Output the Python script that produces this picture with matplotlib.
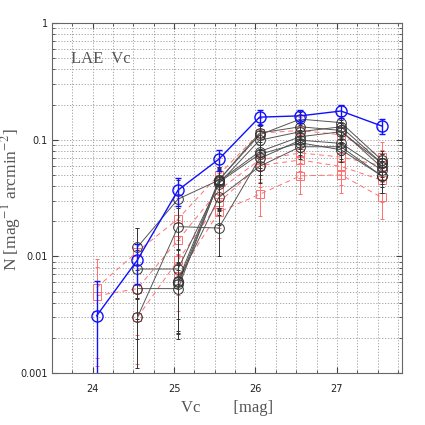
import matplotlib.pyplot as plt
import numpy as np
from matplotlib.ticker import FixedLocator, LogLocator, NullFormatter

plt.rcParams['mathtext.fontset'] = 'stix'

nan = np.nan

# magnitude bins
mag = [24.05, 24.55, 25.05, 25.55, 26.05, 26.55, 27.05, 27.55]

# blue (total) counts
blue_n = [0.0031, 0.0093, 0.037, 0.068, 0.156, 0.160, 0.176, 0.131]
blue_err = [0.0030, 0.0035, 0.010, 0.014, 0.022, 0.020, 0.024, 0.020]

# black (individual fields)
black_n = [
    [nan, 0.0120, 0.031, 0.045, 0.110, 0.150, 0.140, 0.067],
    [nan, 0.0078, 0.0078, 0.042, 0.099, 0.117, 0.129, 0.063],
    [nan, 0.0053, 0.0053, 0.044, 0.079, 0.106, 0.117, 0.063],
    [nan, 0.0030, 0.018, 0.0175, 0.069, 0.099, 0.093, 0.055],
    [nan, nan, 0.0060, 0.032, 0.059, 0.087, 0.087, 0.049],
    [nan, nan, 0.0058, 0.043, 0.075, 0.094, 0.082, 0.049],
    [nan, nan, 0.0062, 0.045, 0.114, 0.129, 0.120, 0.058],
]
black_relerr = [0.0, 0.45, 0.45, 0.30, 0.20, 0.15, 0.15, 0.20]

# red (comparison fields)
red_n = [
    [0.0054, 0.011, 0.021, 0.050, 0.114, 0.120, 0.110, 0.071],
    [0.0046, 0.0053, 0.0138, 0.037, 0.067, 0.077, 0.071, 0.060],
    [nan, 0.0030, 0.0093, 0.029, 0.060, 0.067, 0.059, 0.045],
    [nan, nan, 0.0068, 0.024, 0.034, 0.049, 0.050, 0.032],
]
red_relerr = [0.75, 0.6, 0.5, 0.4, 0.35, 0.3, 0.3, 0.35]

fig = plt.figure(figsize=(4.25, 4.25), dpi=100)
ax = fig.add_axes([0.122, 0.122, 0.824, 0.824])

ax.set_yscale('log')
ax.set_xlim(23.5, 27.8)
ax.set_ylim(0.001, 1)

# red dashed series
for s in red_n:
    s = np.array(s)
    err = s * np.array(red_relerr)
    lo = np.minimum(err, s - 1e-4)
    ax.errorbar(mag, s, yerr=[lo, err], fmt='s', color='#ff7070', mfc='none',
                ms=5.5, mew=0.7, elinewidth=0.7, capsize=1.5, capthick=0.7, zorder=2)
    ax.plot(mag, s, '--', color='#ff7070', lw=0.7, dashes=(5, 4), zorder=2)

# black series
for s in black_n:
    s = np.array(s)
    err = s * np.array(black_relerr)
    lo = np.minimum(err * 1.4, s - 1e-4)
    ax.errorbar(mag, s, yerr=[lo, err], fmt='o', color='#333333', mfc='none',
                ms=7, mew=0.7, elinewidth=0.7, capsize=1.5, capthick=0.7, zorder=3)
    ax.plot(mag, s, '-', color='#555555', lw=0.7, zorder=3)

# blue total
b = np.array(blue_n)
blo = np.minimum(np.array(blue_err), b - 1e-5)
ax.errorbar(mag, b, yerr=[blo, blue_err], fmt='o-', color='#1010ff', mfc='none',
            ms=8, mew=1.0, lw=1.0, elinewidth=1.0, capsize=2, capthick=1.0, zorder=4)

# grid and ticks
ax.xaxis.set_major_locator(FixedLocator([24, 25, 26, 27]))
ax.xaxis.set_minor_locator(FixedLocator(np.arange(23.5, 27.8, 0.25)))
ax.yaxis.set_major_locator(LogLocator(base=10))
ax.yaxis.set_minor_locator(LogLocator(base=10, subs=np.arange(2, 10)))
ax.yaxis.set_minor_formatter(NullFormatter())
ax.set_yticks([0.001, 0.01, 0.1, 1])
ax.set_yticklabels(['0.001', '0.01', '0.1', '1'])
ax.grid(True, which='both', linestyle=(0, (1.5, 2)), color='#999999', lw=0.6)
ax.tick_params(which='both', direction='in', top=True, right=True, labelsize=7,
               colors='#444444', labelcolor='#222222')
ax.tick_params(which='major', length=4)
ax.tick_params(which='minor', length=2)
ax.tick_params(axis='x', which='major', pad=8)
ax.tick_params(axis='y', which='major', pad=3)
for sp in ax.spines.values():
    sp.set_color('#666666')
    sp.set_linewidth(0.8)

ax.text(23.73, 0.45, 'LAE  Vc', family='Liberation Serif', fontsize=12, color='#555555')
ax.set_xlabel('Vc        [mag]', family='Liberation Serif', fontsize=12, color='#555555')
fig.text(0.027, 0.53, r'N [mag$^{-1}$ arcmin$^{-2}$]', family='Liberation Serif',
         fontsize=12.5, color='#555555', rotation=90, ha='center', va='center')

plt.savefig('out.png', dpi=100)
